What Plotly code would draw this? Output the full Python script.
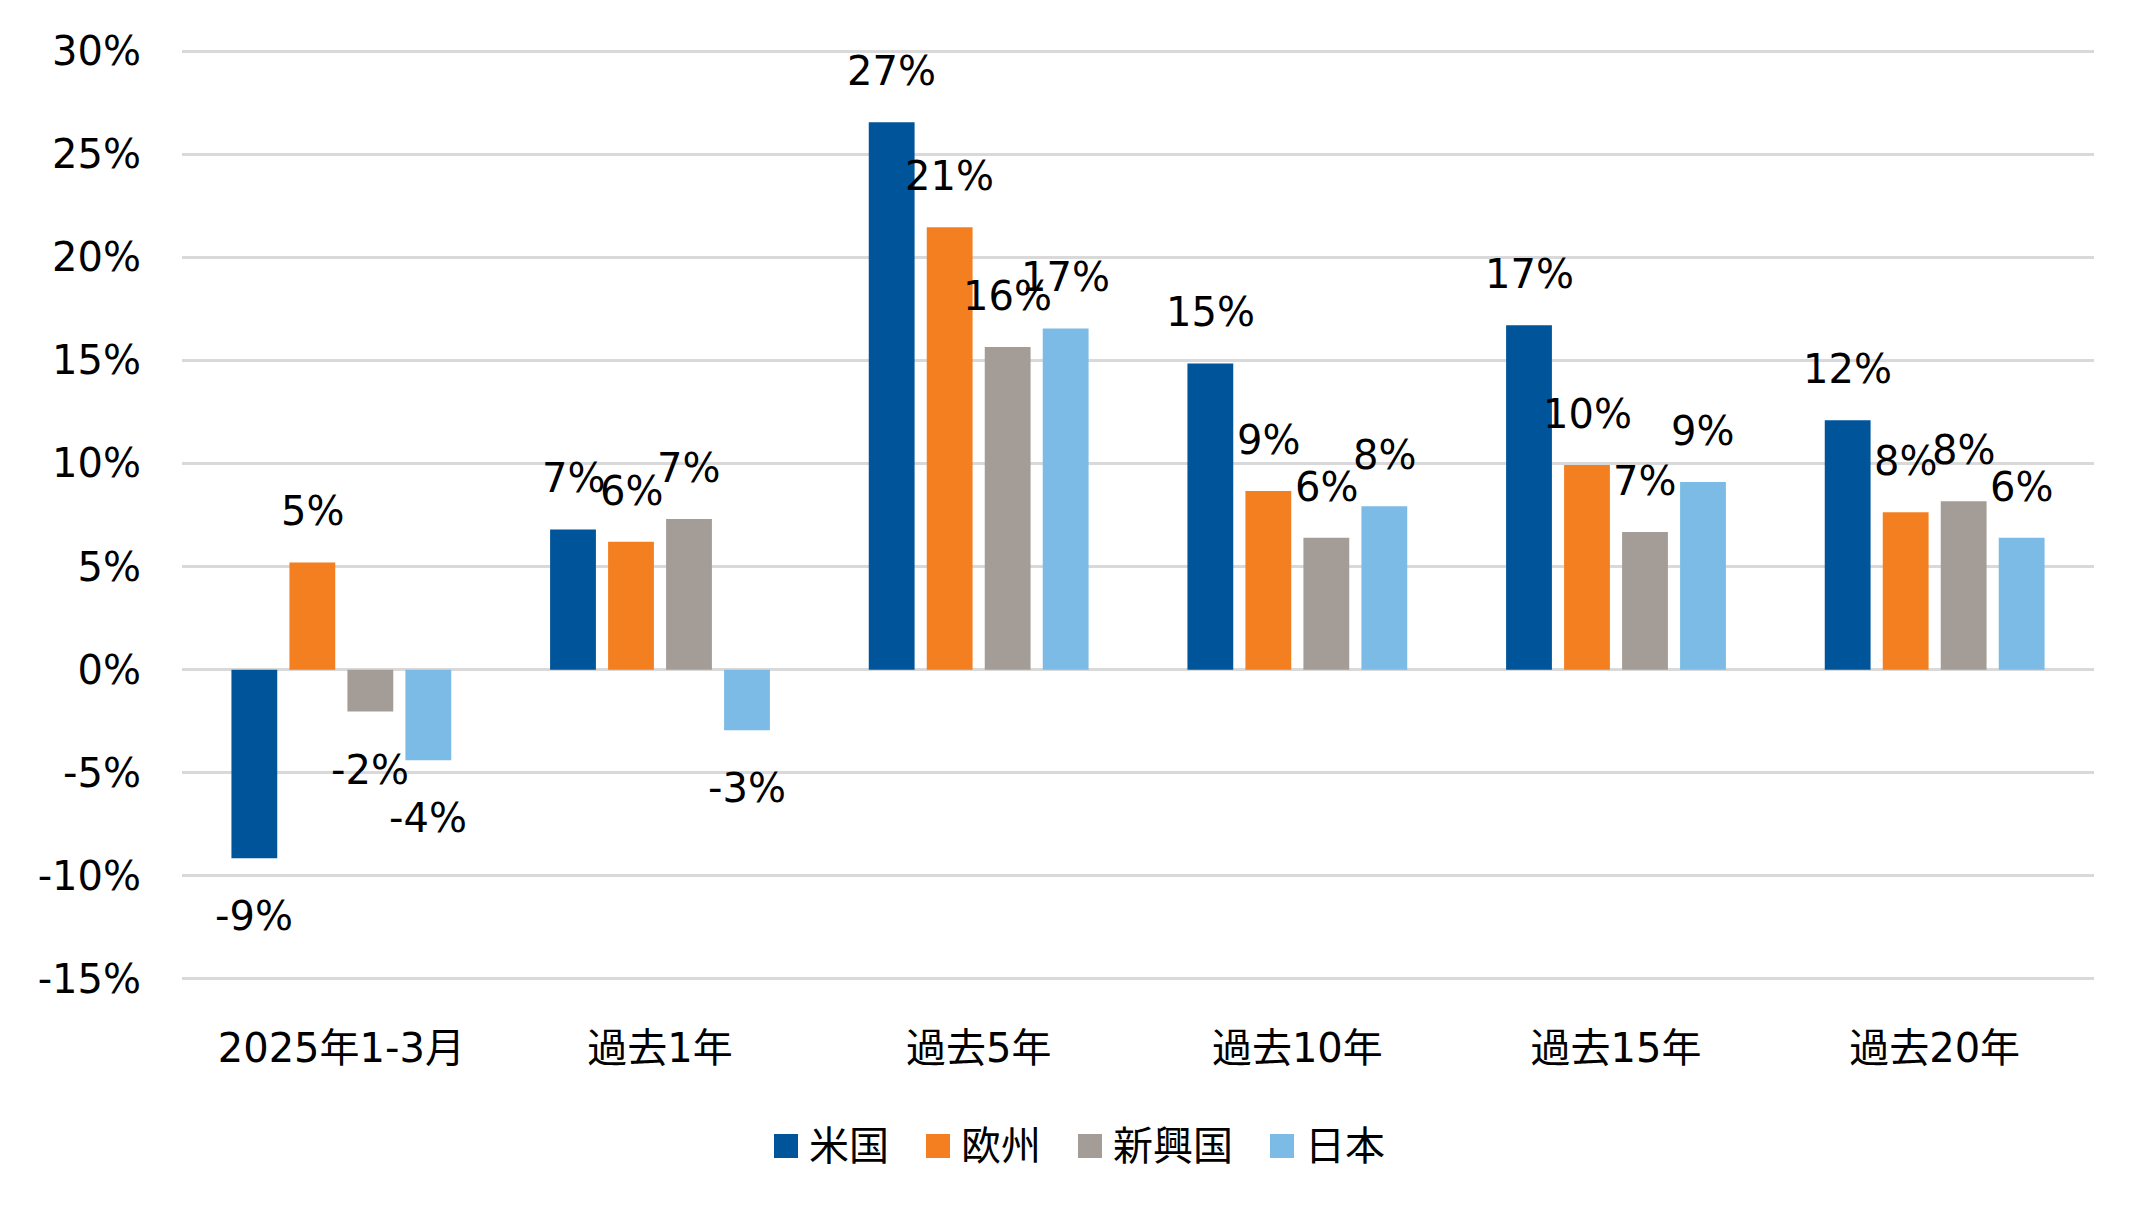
import plotly.graph_objects as go

categories = ["2025年1-3月", "過去1年", "過去5年", "過去10年", "過去15年", "過去20年"]
series_names = ["米国", "欧州", "新興国", "日本"]
us = [-9.15, 6.8, 26.55, 14.85, 16.7, 12.1]
eu = [5.2, 6.2, 21.45, 8.66, 9.92, 7.63]
em = [-2.03, 7.3, 15.65, 6.4, 6.67, 8.17]
jp = [-4.4, -2.94, 16.55, 7.93, 9.1, 6.4]
tick_vals = [-15, -10, -5, 0, 5, 10, 15, 20, 25, 30]
tick_text = ["-15%", "-10%", "-5%", "0%", "5%", "10%", "15%", "20%", "25%", "30%"]

colors = ["#00549A", "#F47F20", "#A49C96", "#7BBBE5"]
all_series = [us, eu, em, jp]

FONT = "DejaVu Sans, Noto Sans CJK JP, sans-serif"
FS = 40
W, H = 2145, 1213
ML, MR, MT, MB = 182, 51, 49, 232
plot_w = W - ML - MR
plot_h = H - MT - MB

fig = go.Figure()
for name, vals, col in zip(series_names, all_series, colors):
    fig.add_trace(go.Bar(name=name, x=categories, y=vals, showlegend=False,
                         marker=dict(color=col, line=dict(width=0))))

# data labels placed relative to each bar via axis coordinates
cat_w = plot_w / len(categories)
bargap = 0.272
slot = cat_w * (1 - bargap) / len(series_names)
for i, vals in enumerate(all_series):
    xshift = (i - (len(series_names) - 1) / 2) * slot
    for c, v in zip(categories, vals):
        fig.add_annotation(x=c, y=v, xref="x", yref="y", text=f"{v:.0f}%", showarrow=False,
                           xshift=xshift, yshift=51 if v >= 0 else -58,
                           font=dict(family=FONT, size=FS, color="#000000"))

# legend (large square swatches, as in the reference)
def px_to_paper_x(px):
    return (px - ML) / plot_w

def px_to_paper_y(py):
    return (H - MB - py) / plot_h

sq = 24
leg_y = 1146
x0 = 774
for name, col in zip(series_names, colors):
    fig.add_shape(type="rect", xref="paper", yref="paper",
                  x0=px_to_paper_x(x0), x1=px_to_paper_x(x0 + sq),
                  y0=px_to_paper_y(leg_y + sq / 2), y1=px_to_paper_y(leg_y - sq / 2),
                  fillcolor=col, line=dict(width=0))
    fig.add_annotation(x=px_to_paper_x(x0 + sq + 9), y=px_to_paper_y(leg_y), xref="paper", yref="paper",
                       text=name, showarrow=False, xanchor="left", yanchor="middle",
                       font=dict(family=FONT, size=FS, color="#000000"))
    x0 += sq + 9 + FS * len(name) + 39

fig.update_layout(
    width=W, height=H,
    margin=dict(l=ML, r=MR, t=MT, b=MB),
    barmode="group", bargap=bargap, bargroupgap=0.21,
    plot_bgcolor="#FFFFFF", paper_bgcolor="#FFFFFF",
    font=dict(family=FONT, size=FS, color="#000000"),
    showlegend=False,
    xaxis=dict(showgrid=False, showline=False, ticks="", ticklabelstandoff=40,
               tickfont=dict(family=FONT, size=FS, color="#000000")),
    yaxis=dict(range=[-15.1, 30.1], tickvals=tick_vals, ticktext=tick_text, showgrid=True,
               gridcolor="#D9D9D9", gridwidth=3, zeroline=True, zerolinecolor="#D9D9D9",
               zerolinewidth=3, showline=False, ticks="", ticklabelstandoff=40,
               tickfont=dict(family=FONT, size=FS, color="#000000")),
)

fig.write_html("out.html", config={"displayModeBar": False},
               post_script="document.body.style.margin='0px';")
